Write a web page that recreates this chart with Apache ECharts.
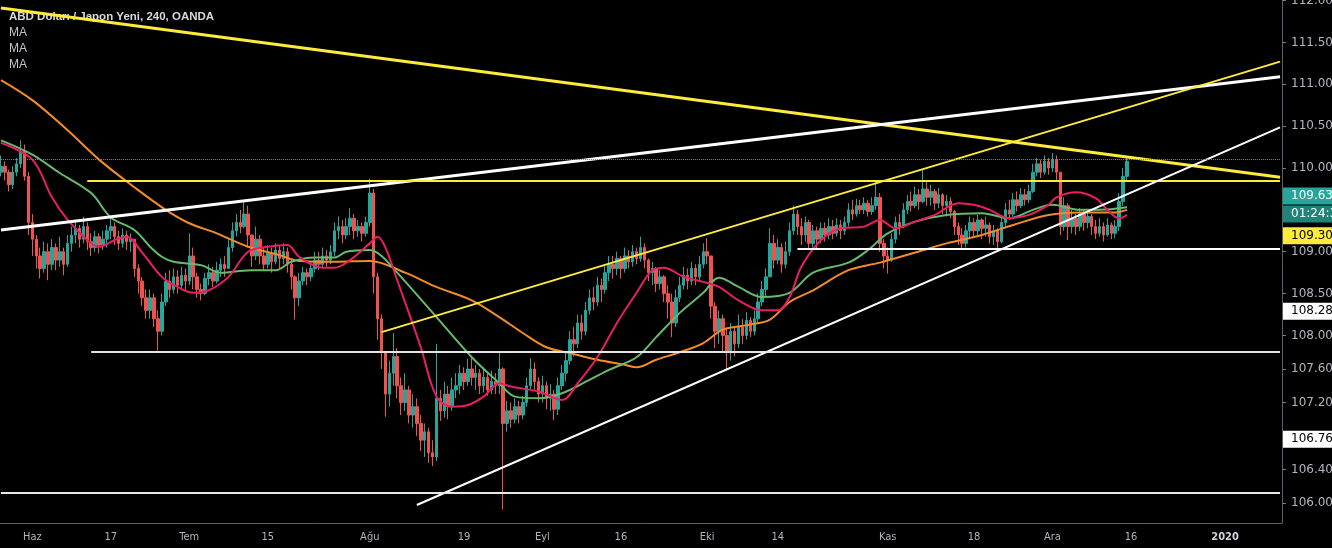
<!DOCTYPE html>
<html><head><meta charset="utf-8">
<script src="https://cdn.jsdelivr.net/npm/echarts@6/dist/echarts.min.js"></script>
<style>html,body{margin:0;padding:0;background:#000}#c{width:1332px;height:548px}</style>
</head><body><div id="c"></div>
<script>
// ---------- data ----------
const titleText = 'ABD Doları / Japon Yeni, 240, OANDA';
const maLabels = ['MA', 'MA', 'MA'];
const startDate = [2019, 4, 28];   // first slot: 28 May 2019 (two slots per trading day)
const totalSlots = 327;
const tickLabels = {
  '2019-06-03': 'Haz', '2019-06-17': '17', '2019-07-01': 'Tem', '2019-07-15': '15',
  '2019-08-01': 'Ağu', '2019-08-19': '19', '2019-09-02': 'Eyl', '2019-09-16': '16',
  '2019-10-01': 'Eki', '2019-10-14': '14', '2019-11-01': 'Kas', '2019-11-18': '18',
  '2019-12-02': 'Ara', '2019-12-16': '16', '2020-01-01': '2020'
};
const open0 = 109.95;
const closes = [
  110.02,109.95,109.80,109.95,110.05,110.20,109.90,109.35,109.15,108.95,
  108.80,109.00,108.85,109.05,108.90,109.00,108.85,109.10,109.20,109.28,
  109.15,109.30,109.12,109.05,109.18,109.08,109.15,109.25,109.30,109.18,
  109.10,109.20,109.12,109.15,108.80,108.65,108.45,108.30,108.45,108.20,
  108.05,108.40,108.65,108.55,108.70,108.60,108.72,108.65,108.95,108.70,
  108.55,108.50,108.68,108.75,108.65,108.78,108.85,108.80,109.05,109.25,
  109.35,109.30,109.45,109.20,108.95,109.15,108.95,108.85,108.98,108.88,
  109.02,108.92,109.00,108.85,108.70,108.45,108.65,108.75,108.70,108.80,
  108.90,108.85,108.95,108.90,109.00,109.25,109.30,109.20,109.30,109.40,
  109.25,109.30,109.22,109.35,109.70,108.70,108.20,107.80,107.30,107.55,
  107.75,107.40,107.20,107.35,107.05,107.15,106.95,106.75,106.85,106.60,
  106.55,107.25,107.10,107.30,107.15,107.35,107.40,107.55,107.45,107.60,
  107.50,107.55,107.40,107.50,107.35,107.45,107.40,107.60,106.95,107.10,
  107.00,107.15,107.05,107.20,107.40,107.60,107.45,107.30,107.40,107.25,
  107.30,107.12,107.40,107.55,107.70,107.95,107.90,108.15,108.05,108.30,
  108.45,108.40,108.60,108.55,108.75,108.85,108.80,108.92,108.80,108.95,
  108.88,109.00,108.92,109.05,108.90,108.75,108.80,108.62,108.70,108.50,
  108.40,108.15,108.45,108.60,108.72,108.65,108.80,108.70,108.85,109.00,
  108.95,108.35,108.05,108.20,108.00,107.80,108.05,107.90,108.10,108.00,
  108.18,108.05,108.20,108.40,108.55,108.70,109.10,108.90,109.05,108.85,
  109.00,109.25,109.45,109.30,109.20,109.35,109.10,109.25,109.15,109.28,
  109.20,109.30,109.22,109.32,109.25,109.35,109.50,109.45,109.55,109.50,
  109.58,109.48,109.55,109.65,109.10,108.95,108.90,109.15,109.35,109.30,
  109.50,109.60,109.55,109.68,109.60,109.75,109.65,109.72,109.58,109.68,
  109.55,109.60,109.48,109.30,109.20,109.10,109.25,109.35,109.25,109.38,
  109.28,109.32,109.18,109.25,109.12,109.35,109.50,109.45,109.62,109.55,
  109.68,109.62,109.72,109.95,110.05,109.95,110.08,110.00,110.10,109.95,
  109.30,109.55,109.30,109.40,109.30,109.45,109.35,109.42,109.30,109.22,
  109.30,109.20,109.32,109.22,109.30,109.60,109.90,110.08
];
const highs = [
  110.15,110.08,109.98,110.02,110.12,110.33,110.28,109.95,109.45,109.20,
  109.05,109.12,109.10,109.15,109.10,109.18,109.05,109.20,109.30,109.36,
  109.32,109.42,109.35,109.22,109.25,109.22,109.25,109.32,109.40,109.35,
  109.25,109.28,109.25,109.22,109.15,108.85,108.70,108.55,108.55,108.50,
  108.30,108.50,108.75,108.78,108.80,108.78,108.82,108.80,109.22,109.05,
  108.75,108.62,108.75,108.85,108.82,108.88,108.92,108.95,109.15,109.35,
  109.45,109.50,109.60,109.55,109.20,109.30,109.20,109.05,109.08,109.05,
  109.10,109.08,109.10,109.05,108.90,108.72,108.75,108.82,108.80,108.88,
  109.00,109.00,109.05,109.02,109.08,109.35,109.42,109.38,109.40,109.52,
  109.45,109.38,109.35,109.42,109.87,109.75,108.75,108.25,107.80,107.70,
  108.03,107.85,107.50,107.55,107.40,107.30,107.25,107.05,106.95,106.90,
  106.75,107.90,107.35,107.45,107.40,107.50,107.55,107.65,107.62,107.72,
  107.75,107.65,107.60,107.62,107.55,107.58,107.55,107.80,107.62,107.22,
  107.20,107.25,107.22,107.28,107.50,107.73,107.68,107.50,107.52,107.45,
  107.42,107.35,107.50,107.65,107.80,108.05,108.10,108.25,108.25,108.40,
  108.55,108.58,108.70,108.68,108.85,108.95,108.95,109.00,108.95,109.05,
  109.02,109.08,109.05,109.18,109.10,108.92,108.88,108.82,108.78,108.72,
  108.60,108.50,108.55,108.70,108.82,108.80,108.88,108.85,108.95,109.10,
  109.16,108.95,108.40,108.30,108.25,108.10,108.15,108.10,108.25,108.20,
  108.28,108.22,108.30,108.50,108.65,108.80,109.28,109.20,109.15,109.10,
  109.12,109.35,109.55,109.50,109.40,109.42,109.38,109.32,109.30,109.35,
  109.35,109.40,109.38,109.40,109.38,109.42,109.58,109.62,109.63,109.62,
  109.65,109.62,109.65,109.84,109.70,109.15,109.05,109.22,109.42,109.45,
  109.58,109.68,109.72,109.78,109.75,109.98,109.85,109.80,109.75,109.76,
  109.70,109.68,109.65,109.50,109.35,109.28,109.32,109.42,109.40,109.44,
  109.40,109.42,109.35,109.32,109.28,109.42,109.58,109.62,109.70,109.72,
  109.76,109.75,109.80,110.05,110.12,110.10,110.15,110.12,110.18,110.15,
  109.95,109.65,109.58,109.50,109.45,109.52,109.50,109.50,109.45,109.38,
  109.40,109.35,109.40,109.35,109.38,109.70,110.00,110.12
];
const lows = [
  109.90,109.85,109.72,109.75,109.90,110.00,109.85,109.20,108.95,108.80,
  108.68,108.75,108.66,108.78,108.78,108.82,108.72,108.82,109.00,109.10,
  109.05,109.10,109.02,108.95,109.00,108.98,109.02,109.05,109.15,109.08,
  109.02,109.05,109.02,109.00,108.70,108.50,108.35,108.20,108.20,108.10,
  107.82,108.00,108.35,108.45,108.50,108.50,108.55,108.52,108.60,108.55,
  108.45,108.42,108.48,108.60,108.58,108.62,108.70,108.70,108.80,109.00,
  109.18,109.22,109.28,109.05,108.82,108.90,108.85,108.78,108.80,108.75,
  108.85,108.80,108.85,108.75,108.55,108.19,108.35,108.60,108.60,108.65,
  108.75,108.78,108.80,108.82,108.85,108.95,109.15,109.10,109.15,109.20,
  109.15,109.18,109.12,109.18,109.30,108.50,107.95,107.60,107.03,107.15,
  107.40,107.25,107.05,107.10,106.95,106.90,106.80,106.62,106.55,106.48,
  106.44,106.50,106.98,107.02,107.00,107.10,107.25,107.30,107.35,107.40,
  107.40,107.35,107.30,107.32,107.28,107.30,107.30,107.30,105.92,106.85,
  106.90,106.95,106.95,107.00,107.15,107.35,107.35,107.20,107.20,107.12,
  107.10,106.99,107.05,107.35,107.45,107.65,107.75,107.85,107.95,108.00,
  108.25,108.30,108.35,108.40,108.50,108.65,108.68,108.72,108.68,108.75,
  108.80,108.82,108.85,108.88,108.80,108.65,108.60,108.52,108.55,108.40,
  108.20,107.98,108.10,108.40,108.55,108.55,108.60,108.60,108.65,108.80,
  108.85,108.20,107.85,107.90,107.80,107.59,107.70,107.75,107.85,107.90,
  107.95,107.98,108.00,108.15,108.35,108.45,108.70,108.80,108.85,108.75,
  108.80,108.95,109.20,109.20,109.08,109.12,109.02,109.05,109.02,109.10,
  109.12,109.15,109.15,109.18,109.15,109.20,109.30,109.38,109.42,109.45,
  109.45,109.42,109.44,109.50,109.00,108.80,108.74,108.88,109.10,109.20,
  109.28,109.45,109.48,109.52,109.50,109.58,109.55,109.55,109.50,109.52,
  109.45,109.42,109.40,109.20,109.08,109.02,109.05,109.15,109.18,109.20,
  109.15,109.18,109.10,109.08,109.02,109.10,109.30,109.38,109.42,109.48,
  109.52,109.55,109.58,109.70,109.90,109.88,109.92,109.92,109.95,109.85,
  109.20,109.25,109.14,109.22,109.20,109.25,109.25,109.28,109.20,109.15,
  109.18,109.12,109.18,109.15,109.16,109.25,109.55,109.85
];
// moving averages: [slot, value]
const maPink = [[0,110.30],[8,110.10],[13,109.65],[17,109.38],[22,109.14],[25,109.06],[29,109.14],[32,109.18],[36,108.99],[41,108.70],[45,108.58],[49,108.51],[53,108.54],[58,108.70],[63,109.00],[68,109.06],[73,109.08],[76,108.94],[82,108.81],[85,108.81],[89,108.90],[94,109.10],[96,109.18],[98,109.05],[101,108.66],[107,107.86],[111,107.27],[115,107.15],[119,107.17],[123,107.27],[127,107.43],[130,107.39],[137,107.33],[143,107.23],[147,107.43],[152,107.74],[157,108.15],[162,108.51],[166,108.78],[169,108.81],[174,108.70],[179,108.64],[183,108.58],[188,108.42],[194,108.30],[198,108.30],[201,108.46],[204,108.82],[209,109.14],[214,109.28],[220,109.30],[224,109.38],[228,109.28],[233,109.36],[238,109.44],[244,109.58],[248,109.56],[252,109.50],[257,109.40],[262,109.44],[267,109.56],[269,109.65],[274,109.71],[279,109.64],[282,109.50],[285,109.40],[287,109.44]];
const maGreen = [[0,110.33],[8,110.16],[15,109.94],[23,109.70],[28,109.41],[34,109.26],[38,109.06],[41,108.94],[44,108.88],[51,108.84],[56,108.75],[59,108.76],[64,108.78],[70,108.78],[74,108.88],[80,108.93],[85,108.93],[88,109.00],[94,109.02],[97,108.95],[101,108.75],[111,108.22],[120,107.74],[127,107.43],[131,107.27],[137,107.25],[143,107.31],[150,107.47],[155,107.59],[162,107.74],[167,107.98],[173,108.27],[179,108.51],[183,108.69],[188,108.58],[194,108.46],[201,108.51],[207,108.75],[216,108.87],[221,109.02],[226,109.22],[233,109.36],[241,109.44],[250,109.46],[257,109.40],[263,109.50],[268,109.56],[275,109.50],[280,109.50],[287,109.53]];
const maOrange = [[0,111.05],[8,110.81],[17,110.45],[25,110.10],[34,109.77],[42,109.50],[48,109.34],[55,109.22],[63,109.06],[71,108.96],[76,108.89],[85,108.88],[94,108.89],[103,108.75],[111,108.58],[120,108.42],[127,108.22],[133,108.03],[139,107.86],[145,107.79],[152,107.71],[159,107.65],[162,107.62],[167,107.71],[173,107.80],[179,107.91],[184,108.07],[191,108.13],[196,108.19],[201,108.40],[207,108.54],[216,108.78],[224,108.87],[233,108.99],[241,109.10],[250,109.20],[258,109.32],[267,109.44],[275,109.47],[284,109.47],[287,109.50]];
// hand-drawn trend lines: [slot, price] endpoints
const trendLines = [
  {from:[0,111.91],   to:[326,109.89],  color:'#ffeb3b', width:3, type:'solid'},
  {from:[0,109.26],   to:[326,111.09],  color:'#ffffff', width:3, type:'solid'},
  {from:[22,109.845], to:[326,109.845], color:'#ffeb3b', width:2, type:'solid'},
  {from:[97,108.04],  to:[326,111.27],  color:'#ffeb3b', width:2, type:'solid'},
  {from:[106,105.976],to:[326,110.485], color:'#ffffff', width:2, type:'solid'},
  {from:[23,107.80],  to:[326,107.80],  color:'#e6e6e6', width:2, type:'solid'},
  {from:[0,106.12],   to:[326,106.12],  color:'#e6e6e6', width:2, type:'solid'},
  {from:[203,109.033],to:[326,109.033], color:'#ffffff', width:2, type:'solid'},
  {from:[0,110.107],  to:[326,110.107], color:'#26a69a', width:1, type:'dotted'}
];
const yMin = 105.761, yMax = 112.006;
const yTickValues = [106, 106.4, 107.2, 107.6, 108, 108.5, 109, 110, 110.5, 111, 111.5, 112];
const badges = [
  {pos:109.665, text:'109.636',  bg:'#26a69a', fg:'#ffffff'},
  {pos:109.45,  text:'01:24:39', bg:'#1e8479', fg:'#ffffff'},
  {pos:109.19,  text:'109.303',  bg:'#ffeb3b', fg:'#000000'},
  {pos:108.288, text:'108.288',  bg:'#ffffff', fg:'#000000'},
  {pos:106.76,  text:'106.760',  bg:'#ffffff', fg:'#000000'}
];

// ---------- build ----------
const categories = [];
const d = new Date(Date.UTC(startDate[0], startDate[1], startDate[2]));
while (categories.length < totalSlots) {
  const wd = d.getUTCDay();
  if (wd !== 0 && wd !== 6) {
    const s = d.toISOString().slice(0, 10);
    categories.push(s + ' 00', s + ' 12');
  }
  d.setUTCDate(d.getUTCDate() + 1);
}
categories.length = totalSlots;

const candles = closes.map((c, i) => {
  const o = i ? closes[i - 1] : open0;
  return [o, c, Math.min(lows[i], o, c), Math.max(highs[i], o, c)];
});

const isTick = (idx, value) => value.endsWith(' 00') && tickLabels[value.slice(0, 10)] !== undefined;

const rich = {};
badges.forEach((b, i) => {
  rich['b' + i] = {backgroundColor: b.bg, color: b.fg, width: 50, height: 17, lineHeight: 17,
    padding: [0, 0, 0, 8], fontFamily: 'DejaVu Sans', fontSize: 12};
});

const maSeries = (data, color) => ({
  type: 'line', data: data, smooth: 0.35, showSymbol: false, silent: true, z: 3,
  lineStyle: {color: color, width: 2}
});

const titleStyle = {color: '#d6d8de', fontSize: 11.5, fontWeight: 'bold', fontFamily: 'Liberation Sans', lineHeight: 13};
const maStyle = {color: '#c3c6cc', fontSize: 12, fontWeight: 'normal', fontFamily: 'Liberation Sans', lineHeight: 12};

const option = {
  backgroundColor: '#000000',
  animation: false,
  title: [
    {text: titleText, left: 9, top: 10, padding: 0, z: 0, textStyle: titleStyle},
    {text: maLabels[0], left: 9, top: 27, padding: 0, z: 0, textStyle: maStyle},
    {text: maLabels[1], left: 9, top: 43, padding: 0, z: 0, textStyle: maStyle},
    {text: maLabels[2], left: 9, top: 59, padding: 0, z: 0, textStyle: maStyle}
  ],
  grid: {left: -1, right: 50, top: 0, bottom: 25, containLabel: false, outerBoundsMode: 'none'},
  xAxis: {
    type: 'category', data: categories, boundaryGap: true,
    axisLine: {lineStyle: {color: '#5d606b'}},
    axisTick: {alignWithLabel: true, length: 4, interval: isTick, lineStyle: {color: '#787b86'}},
    axisLabel: {
      interval: isTick, margin: 9, color: '#b2b5be', fontSize: 11,
      fontFamily: "'Liberation Sans Narrow', 'DejaVu Sans Condensed', 'Liberation Sans'",
      formatter: v => { const t = tickLabels[v.slice(0, 10)] || ''; return t === '2020' ? '{y|2020}' : t; },
      rich: {y: {fontWeight: 'bold', color: '#d1d4dc', fontSize: 11, fontFamily: "'Liberation Sans Narrow', 'DejaVu Sans Condensed', 'Liberation Sans'"}}
    },
    splitLine: {show: false}
  },
  yAxis: [
    {
      type: 'value', position: 'right', min: yMin, max: yMax,
      axisLine: {show: true, lineStyle: {color: '#5d606b'}},
      axisTick: {show: true, length: 4, customValues: yTickValues, lineStyle: {color: '#787b86'}},
      axisLabel: {customValues: yTickValues, margin: 9, color: '#b2b5be', fontSize: 12,
        fontFamily: 'DejaVu Sans', formatter: v => v.toFixed(3), showMaxLabel: true, showMinLabel: true},
      splitLine: {show: false}
    },
    {
      type: 'value', position: 'right', min: yMin, max: yMax, z: 10,
      axisLine: {show: false}, axisTick: {show: false}, splitLine: {show: false},
      axisLabel: {
        customValues: badges.map(b => b.pos), margin: 1,
        formatter: v => { const i = badges.findIndex(b => Math.abs(b.pos - v) < 1e-6); return i < 0 ? '' : '{b' + i + '|' + badges[i].text + '}'; },
        rich: rich
      }
    }
  ],
  series: [
    {
      type: 'candlestick', data: candles, barWidth: 3, z: 2, silent: true,
      itemStyle: {color: '#26a69a', color0: '#ef5350', borderColor: '#26a69a', borderColor0: '#ef5350', borderWidth: 1}
    },
    maSeries(maOrange, '#f28c28'),
    maSeries(maGreen, '#66bb6a'),
    maSeries(maPink, '#e91e63'),
    {
      type: 'line', data: [], z: 5, silent: true,
      markLine: {
        silent: true, symbol: ['none', 'none'], label: {show: false}, animation: false,
        data: trendLines.map(t => [
          {coord: t.from, lineStyle: {color: t.color, width: t.width, type: t.type}},
          {coord: t.to}
        ])
      }
    }
  ]
};
const chart = echarts.init(document.getElementById('c'));
chart.setOption(option);
</script>
</body></html>
